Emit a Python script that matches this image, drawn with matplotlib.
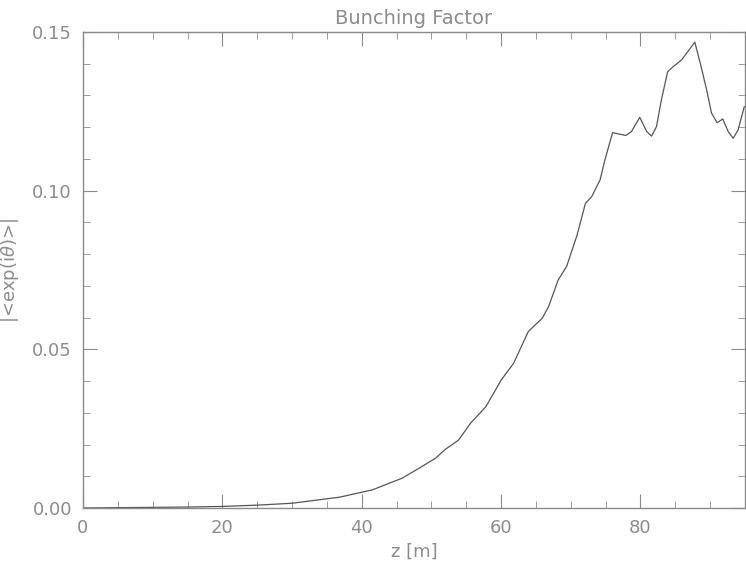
import numpy as np
import matplotlib.pyplot as plt
from matplotlib.ticker import MultipleLocator

# z positions [m] and bunching factor
z = [0, 5, 10, 15, 20, 25, 30, 36.8, 41.5, 45.8, 48.2, 50.6, 52.0, 53.9,
     55.6, 57.8, 59.2, 60.0, 61.8, 63.9, 65.9, 66.8, 68.2, 69.4, 70.9, 72.1,
     73.0, 74.2, 74.9, 76.0, 76.8, 77.9, 78.7, 79.9, 80.9, 81.6, 82.3, 83.0,
     83.9, 84.7, 85.9, 87.8, 88.7, 89.5, 90.2, 91.0, 91.8, 92.6, 93.3, 94.0,
     94.9]
bunching = [0.0, 0.0001, 0.0002, 0.0003, 0.0005, 0.0009, 0.0015, 0.0034, 0.0057,
            0.0094, 0.0125, 0.0157, 0.0185, 0.0214, 0.0267, 0.0319, 0.0372,
            0.0403, 0.0456, 0.0556, 0.0598, 0.0634, 0.0719, 0.0761, 0.0860,
            0.0960, 0.0981, 0.1034, 0.1097, 0.1183, 0.1179, 0.1174, 0.1186,
            0.1231, 0.1186, 0.1172, 0.1202, 0.1286, 0.1375, 0.1391, 0.1412,
            0.1468, 0.1391, 0.1317, 0.1244, 0.1214, 0.1226, 0.1186, 0.1165,
            0.1191, 0.1265]

axis_gray = '#8a8a8a'
text_gray = '#8c8c8c'

fig = plt.figure(figsize=(7.46, 5.64), dpi=100)
ax = fig.add_axes([83 / 746, 56 / 564, 662 / 746, 476 / 564])

ax.plot(z, bunching, color='#555555', lw=0.9)

ax.set_xlim(0, 95)
ax.set_ylim(0, 0.15)
ax.xaxis.set_major_locator(MultipleLocator(20))
ax.xaxis.set_minor_locator(MultipleLocator(5))
ax.yaxis.set_major_locator(MultipleLocator(0.05))
ax.yaxis.set_minor_locator(MultipleLocator(0.01))
ax.yaxis.set_major_formatter(plt.FormatStrFormatter('%.2f'))

for s in ax.spines.values():
    s.set_color(axis_gray)
    s.set_linewidth(1.0)
ax.tick_params(which='both', direction='in', top=True, right=True,
               color=axis_gray, labelcolor=text_gray, labelsize=13, pad=8)
ax.tick_params(which='major', length=10)
ax.tick_params(which='minor', length=5)

ax.set_title('Bunching Factor', color=text_gray, fontsize=14, pad=6)
ax.set_xlabel('z [m]', color=text_gray, fontsize=13, labelpad=4)
ax.set_ylabel(r'|<exp(i$\theta$)>|', color=text_gray, fontsize=13, labelpad=8)

fig.savefig('out.png', dpi=100)
